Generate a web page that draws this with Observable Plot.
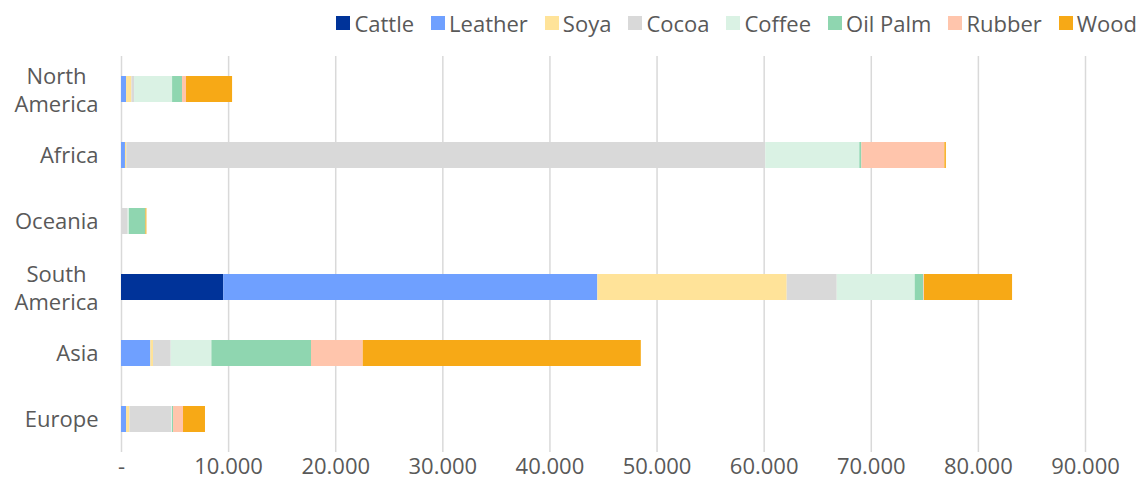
<!DOCTYPE html>
<html>
<head>
<meta charset="utf-8">
<script src="https://cdn.jsdelivr.net/npm/d3@7"></script>
<script src="https://cdn.jsdelivr.net/npm/@observablehq/plot@0.6"></script>
<style>
  body { margin: 0; background: #fff; font-family: "Open Sans", sans-serif; }
  #legend {
    display: flex; justify-content: flex-end; align-items: center;
    height: 45px; padding-right: 9px; gap: 17px;
    font-size: 22px; color: #595959;
  }
  #legend .item { display: flex; align-items: center; gap: 4px; }
  #legend .sw { width: 14px; height: 14px; display: inline-block; }
</style>
</head>
<body>
<div id="legend"></div>
<div id="chart"></div>
<script>
// Regions, top to bottom
const regions = ["North America", "Africa", "Oceania", "South America", "Asia", "Europe"];

// Commodities in stacking order, with their colours
const commodities = ["Cattle", "Leather", "Soya", "Cocoa", "Coffee", "Oil Palm", "Rubber", "Wood"];
const colors = ["#003399", "#6FA0FF", "#FFE399", "#D9D9D9", "#DAF2E4", "#8FD6B0", "#FFC5AC", "#F7A916"];

// Values per commodity, one per region (same order as regions)
const cattle  = [0,     0,     0,    9550,  0,     0];
const leather = [470,   370,   0,    34920, 2740,  470];
const soya    = [500,   120,   0,    17680, 250,   310];
const cocoa   = [250,   59660, 620,  4670,  1650,  3920];
const coffee  = [3550,  8780,  120,  7280,  3800,  60];
const oilPalm = [930,   190,   1540, 810,   9300,  100];
const rubber  = [370,   7750,  0,    60,    4830,  930];
const wood    = [4300,  140,   90,   8220,  25960, 2050];

// X axis tick values
const xTicks = [0, 10000, 20000, 30000, 40000, 50000, 60000, 70000, 80000, 90000];

const series = [cattle, leather, soya, cocoa, coffee, oilPalm, rubber, wood];
const rows = [];
commodities.forEach((c, i) => {
  regions.forEach((r, j) => rows.push({region: r, commodity: c, value: series[i][j]}));
});

const fmt = d => d === 0 ? "-" : d3.format(",")(d).replace(/,/g, ".");
const singleLine = regions.filter(r => !r.includes(" "));
const twoLine = regions.filter(r => r.includes(" "));

// Legend
const legend = document.getElementById("legend");
commodities.forEach((c, i) => {
  const item = document.createElement("span");
  item.className = "item";
  const sw = document.createElement("span");
  sw.className = "sw";
  sw.style.background = colors[i];
  const label = document.createElement("span");
  label.textContent = c;
  item.append(sw, label);
  legend.append(item);
});

const chart = Plot.plot({
  width: 1146,
  height: 449,
  marginLeft: 121,
  marginRight: 61,
  marginTop: 11,
  marginBottom: 42,
  style: {fontFamily: "Open Sans, sans-serif", fontSize: "22px", color: "#595959", background: "#fff"},
  x: {domain: [0, 90000]},
  y: {domain: regions, paddingInner: 0.6, paddingOuter: 0.3},
  color: {domain: commodities, range: colors},
  marks: [
    Plot.gridX(xTicks, {stroke: "#D9D9D9", strokeOpacity: 1, strokeWidth: 1.5}),
    Plot.barX(rows, {y: "region", x: "value", fill: "commodity"}),
    Plot.axisX(xTicks, {tickSize: 0, tickPadding: 6, tickFormat: fmt, label: null}),
    Plot.axisY(singleLine, {tickSize: 0, tickPadding: 23, label: null}),
    Plot.axisY(twoLine, {
      tickSize: 0, tickPadding: 23, label: null,
      textAnchor: "middle", dx: -42, lineHeight: 1.27,
      tickFormat: d => d.replace(" ", "\n")
    })
  ]
});
document.getElementById("chart").append(chart);
</script>
</body>
</html>
